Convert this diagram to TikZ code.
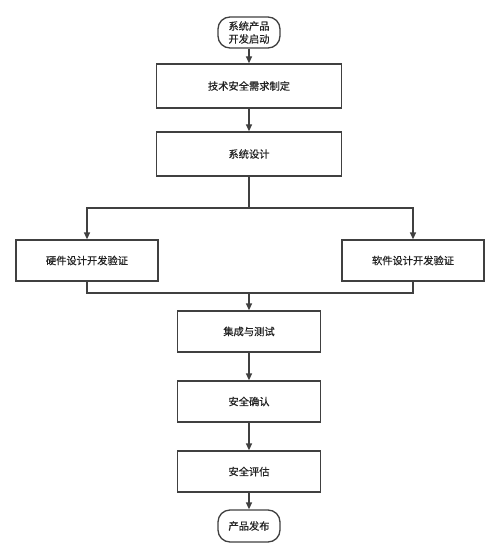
\documentclass[tikz,border=0pt]{standalone}
\usepackage{fontspec}
\setmainfont{Noto Sans CJK SC}
\newfontfamily\cjkmed{Noto Sans CJK SC}[FakeBold=0.5]
\usetikzlibrary{arrows.meta,positioning}

\definecolor{linegray}{HTML}{404040}
\definecolor{textgray}{HTML}{222222}

\tikzset{
  stepbox/.style={draw=linegray, line width=1.3bp, fill=white, text=textgray,
    minimum width=185bp, minimum height=44bp, inner sep=0pt,
    font=\cjkmed\fontsize{10.3}{13}\selectfont},
  sidebox/.style={stepbox, minimum width=142bp, minimum height=41bp},
  midbox/.style={stepbox, minimum width=143bp, minimum height=41bp},
  terminal/.style={stepbox, minimum width=62bp, minimum height=31bp,
    rounded corners=12bp, align=center},
  arr/.style={draw=linegray, line width=1.3bp, -{Triangle[length=7bp,width=6bp]}},
  ln/.style={draw=linegray, line width=1.3bp}
}

\begin{document}
\begin{tikzpicture}[x=1bp,y=-1bp]
        \useasboundingbox (0,0) rectangle (500,558);
        % Knoten
        \node[terminal] (start) at (249,32.5) {系统产品\\开发启动};
        \node[stepbox] (req) at (249,86) {技术安全需求制定};
        \node[stepbox] (sys) at (249,154) {系统设计};
        \node[sidebox] (hw) at (87,260.5) {硬件设计开发验证};
        \node[sidebox] (sw) at (413,260.5) {软件设计开发验证};
        \node[midbox] (integ) at (249,331.5) {集成与测试};
        \node[midbox] (confirm) at (249,401.5) {安全确认};
        \node[midbox] (assess) at (249,471.5) {安全评估};
        \node[terminal, minimum height=32bp] (release) at (249,526) {产品发布};
        \coordinate (split) at (249,208);
        \coordinate (merge) at (249,293);
        % Verbindungen
        \draw[arr] (start) -- (req);
        \draw[arr] (req) -- (sys);
        \draw[ln] (sys) -- (split);
        \draw[arr] (split) -| (hw);
        \draw[arr] (split) -| (sw);
        \draw[ln] (hw) |- (merge);
        \draw[ln] (sw) |- (merge);
        \draw[arr] (merge) -- (integ);
        \draw[arr] (integ) -- (confirm);
        \draw[arr] (confirm) -- (assess);
        \draw[arr] (assess) -- (release);
    \end{tikzpicture}
\end{document}
